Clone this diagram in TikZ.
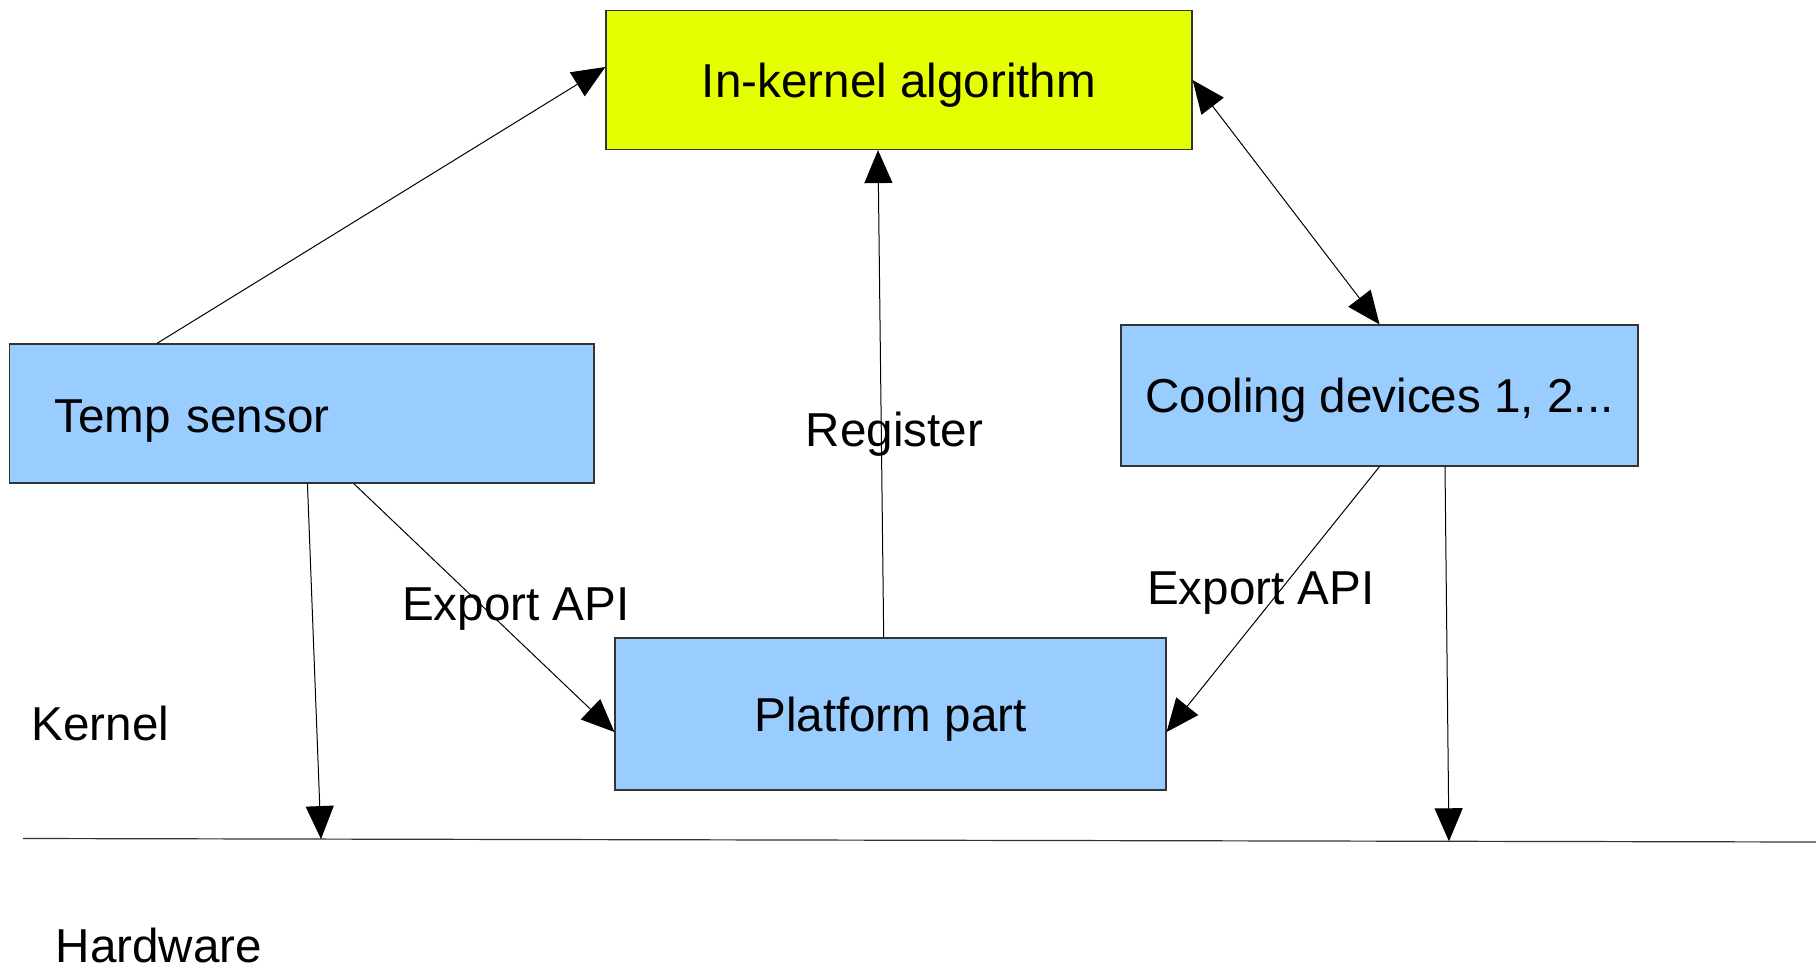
\documentclass[tikz,border=0pt]{standalone}
\usepackage{fontspec}
\setmainfont{Liberation Sans}
\usetikzlibrary{arrows.meta,calc}
\definecolor{algofill}{HTML}{E6FF00}
\definecolor{partfill}{HTML}{99CCFF}
\definecolor{edgegray}{HTML}{333333}
\begin{document}
\begin{tikzpicture}[x=1pt,y=-1pt,
  every node/.style={font=\fontsize{47.6pt}{57pt}\selectfont},
  block/.style={draw=edgegray,line width=1.2pt,rectangle,inner sep=0pt,
    text height=34pt,text depth=0pt},
  label/.style={anchor=base west,inner sep=0pt},
  link/.style={draw=black,line width=1pt},
  tip/.style={-{Triangle[length=33pt,width=28pt]}},
  tips/.style={{Triangle[length=33pt,width=28pt]}-{Triangle[length=33pt,width=28pt]}}]
\useasboundingbox (0,0) rectangle (1816,969);

% blocks
\node[block,fill=algofill,minimum width=586pt,minimum height=139pt] (ik) at (899,80) {In-kernel algorithm};
\node[block,fill=partfill,inner xsep=45pt,text width=494.7pt,align=left,minimum height=139pt,text height=38pt] (ts) at (301.7,413.5) {Temp sensor};
\node[block,fill=partfill,minimum width=517pt,minimum height=141pt] (cd) at (1379.5,395.5) {Cooling devices 1, 2...};
\node[block,fill=partfill,minimum width=551pt,minimum height=152pt] (pp) at (890.5,714) {Platform part};

% kernel / hardware boundary
\coordinate (hl1) at (23,838.5);
\coordinate (hl2) at (1816,842);
\draw[draw=edgegray,line width=1.2pt] (hl1) -- (hl2);
\coordinate (hA) at ($(hl1)!0.1662!(hl2)$);
\coordinate (hB) at ($(hl1)!0.7953!(hl2)$);

% connectors
\draw[link,tip] ([xshift=148.2pt]ts.north west) -- ([yshift=13pt]ik.west);
\draw[link,tip] ([xshift=-6.8pt]pp.north) -- ([xshift=-21pt]ik.south);
\draw[link,tips] (ik.east) -- (cd.north);
\draw[link,tip] ([xshift=345pt]ts.south west) -- ([yshift=-18pt]pp.west);
\draw[link,tip] ([xshift=298.7pt]ts.south west) -- (hA);
\draw[link,tip] (cd.south) -- ([yshift=-18pt]pp.east);
\draw[link,tip] ([xshift=65.5pt]cd.south) -- (hB);

% free labels
\node[label] (reg) at (805.5,446) {Register};
\node[label] (exl) at (402,620) {Export API};
\node[label] (exr) at (1147,604.7) {Export API};
\node[label] (kern) at (31.5,740) {Kernel};
\node[label] (hw) at (55.6,962) {Hardware};
\end{tikzpicture}
\end{document}
